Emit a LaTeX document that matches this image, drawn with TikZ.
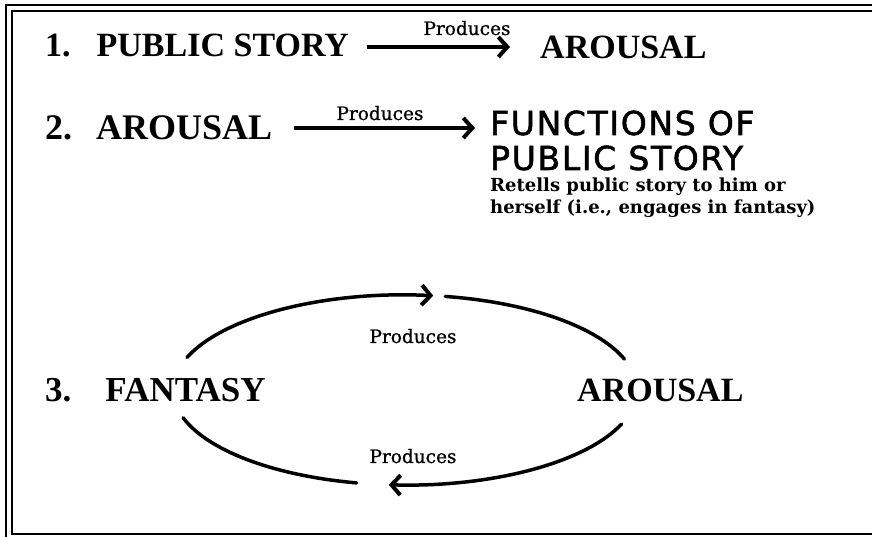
\documentclass[tikz,border=0pt]{standalone}
\usepackage{fontspec}
\setmainfont{Liberation Serif}
\newfontfamily\slab{DejaVu Serif}
\newfontfamily\slabm{DejaVu Serif}[FakeBold=0.9]
\newfontfamily\sansf{DejaVu Sans}[LetterSpace=5, FakeBold=1.6]
\usetikzlibrary{arrows.meta,calc}
\begin{document}
\begin{tikzpicture}[x=1pt,y=1pt,
  big/.style={inner sep=0pt, anchor=base west, font=\fontsize{34}{40}\selectfont\bfseries},
  fun/.style={inner sep=0pt, anchor=base west, font=\sansf\fontsize{33}{40}\selectfont},
  desc/.style={inner sep=0pt, anchor=base west, font=\slab\bfseries\fontsize{18}{22}\selectfont},
  lbl/.style={inner sep=0pt, anchor=base, font=\slabm\fontsize{18.5}{22}\selectfont},
  arr/.style={line width=3.5pt, -{Straight Barb[length=9pt,width=20pt,line width=4pt]}},
  curve/.style={line width=3.5pt, line cap=round},
  frame/.style={line width=2.5pt}]
\useasboundingbox (0,0) rectangle (872,537);
\begin{scope}
\clip (0,0) rectangle (872,537);
\draw[frame] (6,-5) -- (6,532) -- (880,532);
\draw[frame] (880,3) -- (12,3) -- (12,526) -- (880,526);
\end{scope}
% row 1
\node[big] (n1) at (45,480) {1.\hspace{26pt}PUBLIC STORY};
\node[big] (a1) at (540,478) {AROUSAL};
\draw[arr] ($(n1.base east)+(18,10)$) -- ($(a1.base west)+(-30,12)$);
\node[lbl] (p1) at (467,502) {Produces};
% row 2
\node[big, font=\fontsize{36}{40}\selectfont\bfseries] (n2) at (45,397) {2.\hspace{24pt}AROUSAL};
\node[fun] (f2) at (490,402) {FUNCTIONS OF};
\node[fun] (f2b) at (490,367) {PUBLIC STORY};
\draw[arr] ($(n2.base east)+(22,12)$) -- ($(f2.base west)+(-15,7)$);
\node[lbl] (p2) at (380,417) {Produces};
\node[desc] (d1) at (490,345) {Retells public story to him or};
\node[desc] (d2) at (490,323) {herself (i.e., engages in fantasy)};
% row 3
\node[big, font=\fontsize{35}{40}\selectfont\bfseries] (n3) at (45,135) {3.\hspace{34pt}FANTASY};
\node[big] (a3) at (577,135) {AROUSAL};
\coordinate (c) at (405,147);
\draw[curve, arr] ($(c)+(160:232 and 95)$) arc[start angle=160, end angle=83, x radius=232, y radius=95];
\draw[curve] ($(c)+(80:232 and 95)$) arc[start angle=80, end angle=19, x radius=232, y radius=95];
\draw[curve] ($(c)+(197:232 and 95)$) arc[start angle=197, end angle=258, x radius=232, y radius=95];
\draw[curve, arr] ($(c)+(-21:232 and 95)$) arc[start angle=-21, end angle=-94, x radius=232, y radius=95];
\node[lbl] (p3) at (413,194) {Produces};
\node[lbl] (p4) at (413,74) {Produces};
\end{tikzpicture}
\end{document}
